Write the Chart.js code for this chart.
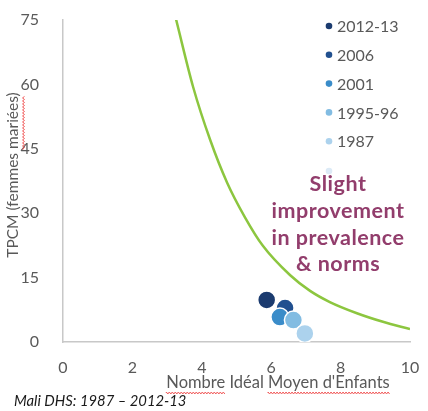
<!DOCTYPE html>
<html>
<head>
<meta charset="utf-8">
<script src="https://cdn.jsdelivr.net/npm/chart.js@4.4.1/dist/chart.umd.min.js"></script>
<style>
html,body{margin:0;padding:0;background:#fff;}
#wrap{width:428px;height:411px;position:relative;}
</style>
</head>
<body>
<div id="wrap"><canvas id="c" width="428" height="411"></canvas></div>
<script>
// ---- Data ----
const surveyLabels = ['2012-13', '2006', '2001', '1995-96', '1987'];
const idealChildren = [5.87, 6.40, 6.25, 6.64, 6.97];   // Nombre Idéal Moyen d'Enfants
const cprMarried   = [9.8, 7.9, 5.8, 5.1, 2.0];          // TPCM (femmes mariées)
const curveX = [3.26, 3.75, 4.24, 4.73, 5.24, 5.76, 6.54, 7.12, 7.69, 8.47, 9.22, 10.0];
const curveY = [75.1, 59.4, 47.1, 37.1, 29.1, 22.4, 15.6, 11.9, 9.3, 6.7, 4.7, 3.0];
const xTicks = [0, 2, 4, 6, 8, 10];
const yTicks = [0, 15, 30, 45, 60, 75];
const annotationLines = ['Slight', 'improvement', 'in prevalence', '& norms'];
const yTitle = 'TPCM (femmes mariées)';
const xTitle = "Nombre Idéal Moyen d'Enfants";
const sourceNote = 'Mali DHS: 1987 – 2012-13';

// ---- Styles ----
const pointColors = ['#1b3b6f', '#21508f', '#3a8cc9', '#82bce2', '#acd2ed'];
const FONT = 'Lato, "Open Sans", sans-serif';
const GREY = '#595959';

const datasets = surveyLabels.map((lab, i) => ({
  type: 'scatter',
  label: lab,
  data: [{x: idealChildren[i], y: cprMarried[i]}],
  backgroundColor: pointColors[i],
  borderColor: '#ffffff',
  borderWidth: 1.5,
  pointRadius: 9,
  pointHoverRadius: 9,
  order: surveyLabels.length - i  // later surveys drawn underneath
}));
datasets.push({
  type: 'line',
  label: 'curve',
  data: curveX.map((x, i) => ({x, y: curveY[i]})),
  borderColor: '#8cc63f',
  borderWidth: 2.5,
  pointRadius: 0,
  fill: false,
  cubicInterpolationMode: 'monotone',
  order: 10
});

function squiggle(ctx, x0, x1, y) {
  ctx.save();
  ctx.strokeStyle = '#f05a5a';
  ctx.lineWidth = 1;
  ctx.beginPath();
  let up = true;
  ctx.moveTo(x0, y);
  for (let x = x0; x <= x1; x += 1.5) {
    ctx.lineTo(x, y + (up ? -1 : 1));
    up = !up;
  }
  ctx.stroke();
  ctx.restore();
}

const decorPlugin = {
  id: 'decor',
  afterDraw(chart) {
    const ctx = chart.ctx;
    ctx.save();
    // Legend (custom, inside plot area)
    ctx.font = '16px ' + FONT;
    ctx.textBaseline = 'middle';
    ctx.textAlign = 'left';
    const legX = 329, legY0 = 26, legStep = 28.8;
    surveyLabels.forEach((lab, i) => {
      const y = legY0 + i * legStep;
      ctx.fillStyle = pointColors[i];
      ctx.beginPath(); ctx.arc(legX, y, 3.3, 0, Math.PI * 2); ctx.fill();
      ctx.fillStyle = GREY;
      ctx.fillText(lab, legX + 8, y + 1);
    });
    // faint extra marker
    ctx.fillStyle = '#dceaf6';
    ctx.beginPath(); ctx.arc(legX, legY0 + 5 * legStep + 1, 3.3, 0, Math.PI * 2); ctx.fill();

    // Annotation
    ctx.font = 'bold 21.5px ' + FONT;
    ctx.letterSpacing = '0.5px';
    ctx.fillStyle = '#923d6c';
    ctx.textAlign = 'center';
    annotationLines.forEach((t, i) => {
      ctx.fillText(t, 338, 184 + i * 26.8);
    });
    ctx.letterSpacing = '0px';

    // X title
    ctx.font = '16.5px ' + FONT;
    ctx.fillStyle = GREY;
    ctx.textAlign = 'center';
    const xtX = 278, xtY = 383;
    ctx.fillText(xTitle, xtX, xtY);
    const fullW = ctx.measureText(xTitle).width;
    const left = xtX - fullW / 2;
    const w1 = ctx.measureText('Nombre').width;
    const w2 = ctx.measureText('Nombre Idéal ').width;
    squiggle(ctx, left, left + w1, xtY + 10);
    squiggle(ctx, left + w2, left + fullW, xtY + 10);

    // Source note
    ctx.font = 'italic 14.8px ' + FONT;
    ctx.fillStyle = '#1a1a1a';
    ctx.textAlign = 'left';
    ctx.fillText(sourceNote, 14, 401);

    // Y title (drawn rotated, slightly above plot centre as in reference)
    ctx.font = '15.5px ' + FONT;
    ctx.fillStyle = GREY;
    const tw = ctx.measureText(yTitle).width;
    const wPre = ctx.measureText('TPCM (femmes ').width;
    const wMar = ctx.measureText('mariées').width;
    const cy = 175;
    ctx.translate(13, cy);
    ctx.rotate(-Math.PI / 2);
    ctx.textAlign = 'center';
    ctx.textBaseline = 'middle';
    ctx.fillText(yTitle, 0, 0);
    const start = -tw / 2;
    squiggle(ctx, start + wPre, start + wPre + wMar, 10.5);
    ctx.restore();
  }
};

new Chart(document.getElementById('c'), {
  data: {datasets},
  options: {
    responsive: false,
    animation: false,
    events: [],
    layout: {padding: {left: 0, right: 18, top: 20, bottom: 0}},
    plugins: {legend: {display: false}, tooltip: {enabled: false}},
    scales: {
      x: {
        type: 'linear',
        min: 0, max: 10,
        afterBuildTicks: s => { s.ticks = xTicks.map(v => ({value: v})); },
        afterFit: s => { s.height = 69; s.paddingLeft = 0; s.paddingRight = 0; },
        grid: {display: false},
        border: {display: true, color: '#c8c8c8', width: 1.5},
        ticks: {color: GREY, font: {family: FONT, size: 16}, padding: 8, maxRotation: 0}
      },
      y: {
        type: 'linear',
        min: 0, max: 75,
        afterBuildTicks: s => { s.ticks = yTicks.map(v => ({value: v})); },
        afterFit: s => { s.width = 63; s.paddingTop = 0; s.paddingBottom = 0; },
        grid: {display: false},
        border: {display: true, color: '#c8c8c8', width: 1.5},
        ticks: {color: GREY, font: {family: FONT, size: 16}, padding: 16}
      }
    }
  },
  plugins: [decorPlugin]
});
</script>
</body>
</html>
